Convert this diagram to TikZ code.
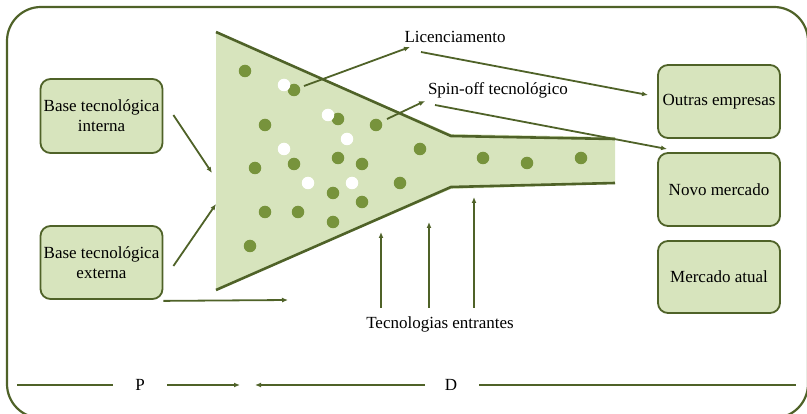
\documentclass[tikz,border=0pt]{standalone}
\usepackage{fontspec}
\setmainfont{Liberation Serif}
\usetikzlibrary{arrows.meta}
\definecolor{olive}{HTML}{4F6228}
\definecolor{lightolive}{HTML}{D7E4BD}
\definecolor{dotgreen}{HTML}{77933C}
\begin{document}
\begin{tikzpicture}[x=1pt,y=-1pt,
  txt/.style={font=\fontsize{17}{20}\selectfont, inner sep=1pt},
  box/.style={txt, draw=olive, fill=lightolive, line width=1.8pt, rounded corners=10pt, align=center, minimum width=122pt, inner sep=0pt},
  arr/.style={draw=olive, line width=1.8pt, -{Latex[length=6pt,width=5pt]}},
  plain/.style={draw=olive, line width=1.8pt},
  gdot/.style={circle, fill=dotgreen, inner sep=0pt, minimum size=12.5pt},
  wdot/.style={circle, fill=white, inner sep=0pt, minimum size=12.5pt}]
\useasboundingbox (0,0) rectangle (807,414);
% outer frame
\draw[olive, line width=2.2pt, rounded corners=34pt] (7,7) rectangle (808,418);
% funnel
\fill[lightolive] (216,32) -- (451,134) -- (615,137) -- (615,184) -- (451,189) -- (216,290) -- cycle;
\draw[olive, line width=2.6pt] (216,32) -- (451,136) -- (615,139);
\draw[olive, line width=2.6pt] (216,290) -- (451,187) -- (615,183);
% dots
\foreach \p [count=\i] in {(245,71),(294,90),(265,125),(338,119),(376,125),(255,168),(294,164),(338,158),(362,164),(420,149),(333,193),(362,202),(400,183),(265,212),(298,212),(333,222),(250,246),(483,158),(527,163),(581,158)}
  \node[gdot] (g\i) at \p {};
\foreach \p [count=\i] in {(284,85),(328,115),(347,139),(284,149),(308,183),(352,183)}
  \node[wdot] (w\i) at \p {};
% boxes
\node[box, minimum height=74pt] (bti) at (101.5,116) {Base tecnológica\\interna};
\node[box, minimum height=73pt] (bte) at (101.5,262.5) {Base tecnológica\\externa};
\node[box, minimum height=73pt] (oe) at (719,101.5) {Outras empresas};
\node[box, minimum height=73pt] (nm) at (719,189.5) {Novo mercado};
\node[box, minimum height=72pt] (ma) at (719,277) {Mercado atual};
% labels
\node[txt] (lic) at (455,37) {Licenciamento};
\node[txt] (spin) at (498,90) {Spin-off tecnológico};
\node[txt] (tec) at (440,324) {Tecnologias entrantes};
% funnel entry points
\coordinate (fin1) at (212,173);
\coordinate (fin2) at (216,204);
\coordinate (fout) at (288,300);
\draw[arr] (bti.east |- 0,115) ++(10,0) coordinate (a1) (a1) -- (fin1);
\draw[arr] (bte.east |- 0,266) ++(10,0) coordinate (a2) (a2) -- (fin2);
\draw[arr] (bte.south east) ++(0,1) coordinate (a3) (a3) -- (fout);
% licenciamento
\coordinate (l0) at (304,86);
\coordinate (l1) at (410,47);
\coordinate (l2) at (421,52);
\coordinate (l3) at (648,95);
\draw[arr] (l0) -- (l1);
\draw[arr] (l2) -- (l3);
% spin-off
\coordinate (s0) at (387,119);
\coordinate (s1) at (425,101);
\coordinate (s2) at (435,105);
\coordinate (s3) at (667,149);
\draw[arr] (s0) -- (s1);
\draw[arr] (s2) -- (s3);
% incoming technologies
\coordinate (t1a) at (381,308); \coordinate (t1b) at (381,232);
\coordinate (t2a) at (429,308); \coordinate (t2b) at (429,222);
\coordinate (t3a) at (474,308); \coordinate (t3b) at (474,197);
\draw[arr] (t1a) -- (t1b);
\draw[arr] (t2a) -- (t2b);
\draw[arr] (t3a) -- (t3b);
% bottom P / D
\node[txt] (P) at (140,385) {P};
\node[txt] (D) at (451,385) {D};
\coordinate (b0) at (17,385);
\coordinate (b1) at (113,385);
\coordinate (b2) at (167,385);
\coordinate (b3) at (240,385);
\coordinate (b4) at (425,385);
\coordinate (b5) at (255,385);
\coordinate (b6) at (479,385);
\coordinate (b7) at (796,385);
\draw[plain] (b0) -- (b1);
\draw[arr] (b2) -- (b3);
\draw[arr] (b4) -- (b5);
\draw[plain] (b6) -- (b7);
\end{tikzpicture}
\end{document}
